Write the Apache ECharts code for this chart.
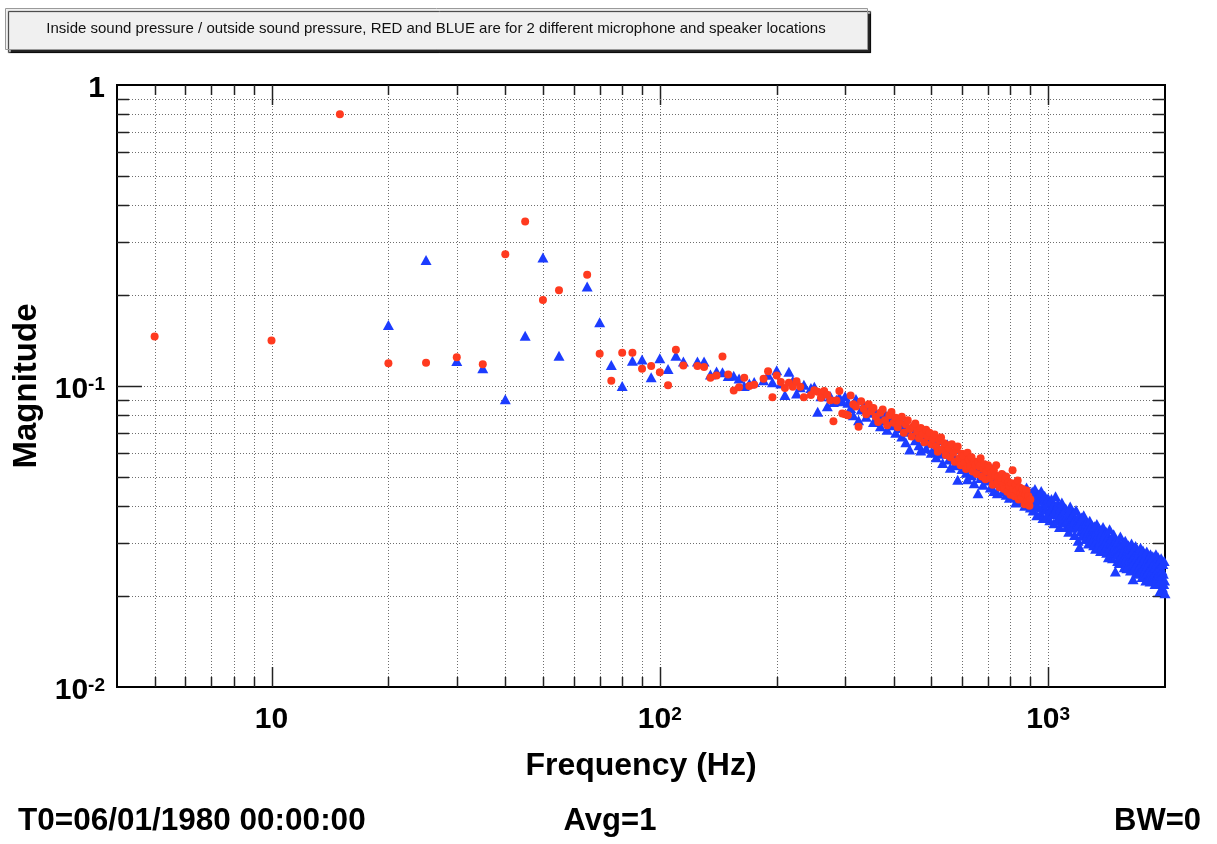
<!DOCTYPE html>
<html>
<head>
<meta charset="utf-8">
<script src="https://cdn.jsdelivr.net/npm/echarts@6.0.0/dist/echarts.min.js"></script>
<style>
html, body { margin: 0; padding: 0; background: #fff; }
#main { width: 1217px; height: 844px; }
</style>
</head>
<body>
<div id="main"></div>
<script>
// frequency bins are 5 Hz apart, null = bin not shown (mains harmonics)
var binStepHz = 5;
var redStartHz = 5;
var blueStartHz = 20;

// red: circles, 5 .. 900 Hz
var redMag = [
  0.146, 0.1415, 0.80, 0.119, 0.1195, 0.1245, 0.118, 0.274, 0.352, 0.193,
  0.208, null, 0.234, 0.128, 0.104, 0.129, 0.129, 0.114, 0.1165, 0.111,
  0.1005, 0.132, 0.117, null, 0.1165, 0.1156, 0.1066, 0.1083, 0.1254, 0.1092,
  0.0966, 0.099, 0.1066, 0.100, 0.101, null, 0.1058, 0.112, 0.0917, 0.1083,
  0.1031, 0.0985, 0.1025, 0.0994, 0.1037, 0.0994, 0.0917, null, 0.0933, 0.0968,
  0.0957, 0.0914, 0.0962, 0.0935, 0.0897, 0.0764, 0.0895, 0.0962, 0.0811, 0.0805,
  0.0800, 0.0930, 0.0870, 0.0855, 0.0732, 0.0890, 0.0840, 0.0805, 0.0870, 0.0825,
  0.0845, 0.0790, 0.0760, 0.0815, 0.0835, 0.0770, 0.0740, 0.0800, 0.0820, 0.0755,
  0.0785, 0.0730, 0.0760, 0.0790, 0.0700, 0.0745, 0.0770, 0.0720, 0.0680, 0.0735,
  0.0750, 0.0705, 0.0670, 0.0725, 0.0690, 0.0650, 0.0715, 0.0680, 0.0700, 0.0640,
  0.0665, 0.0690, 0.0630, 0.0605, 0.0660, 0.0675, 0.0615, 0.0645, 0.0590, 0.0635,
  0.0620, 0.0580, 0.0640, 0.0600, 0.0560, 0.0615, 0.0630, 0.0575, 0.0545, 0.0595,
  0.0585, 0.0555, 0.0530, 0.0600, 0.0570, 0.0540, 0.0580, 0.0520, 0.0560, 0.0545,
  0.0510, 0.0560, 0.0540, 0.0575, 0.0500, 0.0530, 0.0550, 0.0490, 0.0520, 0.0545,
  0.0535, 0.0495, 0.0515, 0.0470, 0.0525, 0.0505, 0.0545, 0.0480, 0.0500, 0.0460,
  0.0495, 0.0510, 0.0470, 0.0455, 0.0490, 0.0500, 0.0445, 0.0480, 0.0465, 0.0435,
  0.0475, 0.0525, 0.0455, 0.0430, 0.0470, 0.0450, 0.0485, 0.0420, 0.0460, 0.0440,
  0.0425, 0.0455, 0.0440, 0.0405, 0.0435, 0.0450, 0.0415, 0.0430, 0.0400, 0.0420
];

// blue: triangles, 20 .. 2000 Hz
var blueMag = [
  0.1595, 0.262, 0.121, 0.1145, 0.0903, 0.147, 0.267,
  0.126, null, 0.214, 0.163, 0.1175, 0.100, 0.1214, 0.1225, 0.107, 0.1236,
  0.1139, 0.126, 0.1205, null, 0.1205, 0.1205, 0.1092, 0.1117, 0.111, 0.108,
  0.1082, 0.106, 0.100, 0.102, 0.1031, null, 0.1045, 0.109, 0.103, 0.1128,
  0.102, 0.0933, 0.1115, 0.104, 0.0945, 0.099, 0.101, null, 0.0985, 0.0995,
  0.0821, 0.0925, 0.0945, 0.0857, 0.0925, 0.0885, 0.090, 0.092, 0.089, 0.0924,
  0.0880, 0.0845, 0.0800, 0.0905, 0.0770, 0.0835, 0.0860, 0.0790, 0.0815, 0.0845,
  0.0760, 0.0820, 0.0795, 0.0735, 0.0770, 0.0810, 0.0715, 0.0755, 0.0790, 0.0740,
  0.0700, 0.0760, 0.0725, 0.0680, 0.0745, 0.0650, 0.0705, 0.0615, 0.0730, 0.0690,
  0.0660, 0.0710, 0.0635, 0.0610, 0.0690, 0.0655, 0.0620, 0.0680, 0.0645, 0.0600,
  0.0650, 0.0615, 0.0580, 0.0630, 0.0660, 0.0595, 0.0555, 0.0620, 0.0600, 0.0640,
  0.0570, 0.0535, 0.0600, 0.0580, 0.0545, 0.0620, 0.0488, 0.0560, 0.0590, 0.0530,
  0.0550, 0.0575, 0.0515, 0.0490, 0.0545, 0.0565, 0.0505, 0.0535, 0.0475, 0.0550,
  0.0520, 0.0440, 0.0540, 0.0495, 0.0510, 0.0470, 0.0525, 0.0545, 0.0485, 0.0500,
  0.0515, 0.0460, 0.0490, 0.0530, 0.0448, 0.0475, 0.0505, 0.0440, 0.0480, 0.0500,
  0.0465, 0.0490, 0.0445, 0.0475, 0.0500, 0.0435, 0.0460, 0.0480, 0.0425, 0.0470,
  0.0455, 0.0430, 0.0470, 0.0445, 0.0410, 0.0460, 0.0475, 0.0420, 0.0440, 0.0455,
  0.0415, 0.0450, 0.0430, 0.0400, 0.0440, 0.0460, 0.0410, 0.0425, 0.0445, 0.0395,
  0.0418, 0.0445, 0.0386, 0.0406, 0.0455, 0.0428, 0.0372, 0.0398, 0.0436, 0.0419,
  0.0376, 0.0448, 0.0396, 0.0364, 0.0416, 0.0432, 0.0388, 0.0368, 0.0408, 0.0424,
  0.0380, 0.0358, 0.0396, 0.0421, 0.0375, 0.0402, 0.0350, 0.0386, 0.0430, 0.0392,
  0.0359, 0.0408, 0.0378, 0.0340, 0.0393, 0.0371, 0.0410, 0.0355, 0.0365, 0.0387,
  0.0352, 0.0392, 0.0340, 0.0372, 0.0361, 0.0328, 0.0384, 0.0398, 0.0350, 0.0369,
  0.0338, 0.0376, 0.0355, 0.0320, 0.0362, 0.0387, 0.0341, 0.0350, 0.0306, 0.0368,
  0.0292, 0.0355, 0.0330, 0.0366, 0.0318, 0.0345, 0.0372, 0.0326, 0.0338, 0.0310,
  0.0352, 0.0320, 0.0340, 0.0300, 0.0331, 0.0357, 0.0314, 0.0325, 0.0345, 0.0306,
  0.0325, 0.0296, 0.0342, 0.0318, 0.0288, 0.0330, 0.0348, 0.0310, 0.0322, 0.0295,
  0.0336, 0.0305, 0.0283, 0.0318, 0.0326, 0.0296, 0.0340, 0.0310, 0.0285, 0.0320,
  0.0302, 0.0328, 0.0279, 0.0296, 0.0314, 0.0270, 0.0306, 0.0334, 0.0290, 0.0300,
  0.0312, 0.0281, 0.0268, 0.0300, 0.0322, 0.0286, 0.0293, 0.0242, 0.0307, 0.0276,
  0.0290, 0.0262, 0.0305, 0.0280, 0.0258, 0.0296, 0.0316, 0.0272, 0.0285, 0.0260,
  0.0300, 0.0268, 0.0282, 0.0250, 0.0290, 0.0306, 0.0265, 0.0276, 0.0248, 0.0286,
  0.0274, 0.0296, 0.0256, 0.0266, 0.0288, 0.0244, 0.0279, 0.0300, 0.0260, 0.0270,
  0.0228, 0.0286, 0.0262, 0.0250, 0.0276, 0.0294, 0.0254, 0.0240, 0.0270, 0.0282,
  0.0262, 0.0238, 0.0281, 0.0252, 0.0266, 0.0290, 0.0246, 0.0258, 0.0232, 0.0274,
  0.0284, 0.0250, 0.0236, 0.0265, 0.0244, 0.0272, 0.0226, 0.0258, 0.0282, 0.0240,
  0.0254, 0.0230, 0.0270, 0.0246, 0.0262, 0.0224, 0.0276, 0.0250, 0.0236, 0.0266,
  0.0244, 0.0272, 0.0228, 0.0256, 0.0238, 0.0262, 0.0220, 0.0250, 0.0276, 0.0232,
  0.0258, 0.0230, 0.0246, 0.0270, 0.0222, 0.0240, 0.0262, 0.0208, 0.0252, 0.0234,
  0.0268, 0.0228, 0.0244, 0.0214, 0.0256, 0.0238, 0.0220, 0.0262, 0.0226, 0.0205
];

// grid / tick positions (log axes)
var xMajorTicks = [10, 100, 1000];
var xMinorTicks = [5, 6, 7, 8, 9, 20, 30, 40, 50, 60, 70, 80, 90,
                   200, 300, 400, 500, 600, 700, 800, 900];
var yMajorTicks = [0.1];
var yMinorTicks = [0.02, 0.03, 0.04, 0.05, 0.06, 0.07, 0.08, 0.09,
                   0.2, 0.3, 0.4, 0.5, 0.6, 0.7, 0.8, 0.9];

var titleText = 'Inside sound pressure / outside sound pressure, RED and BLUE are for 2 different microphone and speaker locations';
var font = '"Liberation Sans", Arial, Helvetica, sans-serif';

function toPoints(startHz, mags) {
  var pts = [];
  mags.forEach(function (m, i) {
    if (m !== null) pts.push([startHz + i * binStepHz, m]);
  });
  return pts;
}

function powLabel(v) {
  var lg = Math.log10(v);
  var e = Math.round(lg);
  if (Math.abs(lg - e) > 1e-6) return '';
  if (e === 0) return '1';
  if (e === 1) return '10';
  return '10{sup|' + e + '}';
}

var xTickData = xMajorTicks.map(function (v) { return [v, 0.1, 1]; })
  .concat(xMinorTicks.map(function (v) { return [v, 0.1, 0]; }));
var yTickData = yMajorTicks.map(function (v) { return [10, v, 1]; })
  .concat(yMinorTicks.map(function (v) { return [10, v, 0]; }));

var gridStyle = { stroke: '#6e6e6e', lineWidth: 1, lineDash: [1, 2] };
var tickStyle = { stroke: '#222', lineWidth: 1.5 };

function renderXTick(params, api) {
  var cs = params.coordSys;
  var px = Math.round(api.coord([api.value(0), 0.1])[0]) + 0.5;
  var len = api.value(2) ? 20 : 10;
  var top = cs.y, bottom = cs.y + cs.height;
  return {
    type: 'group',
    children: [
      { type: 'line', shape: { x1: px, y1: top, x2: px, y2: bottom }, style: gridStyle },
      { type: 'line', shape: { x1: px, y1: bottom, x2: px, y2: bottom - len }, style: tickStyle },
      { type: 'line', shape: { x1: px, y1: top, x2: px, y2: top + len }, style: tickStyle }
    ]
  };
}

function renderYTick(params, api) {
  var cs = params.coordSys;
  var py = Math.round(api.coord([10, api.value(1)])[1]) + 0.5;
  var len = api.value(2) ? 25 : 12;
  var left = cs.x, right = cs.x + cs.width;
  return {
    type: 'group',
    children: [
      { type: 'line', shape: { x1: left, y1: py, x2: right, y2: py }, style: gridStyle },
      { type: 'line', shape: { x1: left, y1: py, x2: left + len, y2: py }, style: tickStyle },
      { type: 'line', shape: { x1: right, y1: py, x2: right - len, y2: py }, style: tickStyle }
    ]
  };
}

var chart = echarts.init(document.getElementById('main'));

var labelRich = {
  sup: { fontSize: 19, fontWeight: 'bold', fontFamily: font, color: '#000', verticalAlign: 'top' }
};

var option = {
  animation: false,
  backgroundColor: '#fff',
  grid: {
    left: 117, top: 85, width: 1048, height: 602,
    show: true, borderColor: '#000', borderWidth: 2, backgroundColor: 'transparent'
  },
  xAxis: {
    type: 'log', logBase: 10, min: 4, max: 2000,
    name: 'Frequency (Hz)', nameLocation: 'middle', nameGap: 63,
    nameTextStyle: { fontSize: 32, fontWeight: 'bold', fontFamily: font, color: '#000' },
    axisLine: { show: false }, axisTick: { show: false }, splitLine: { show: false },
    axisLabel: {
      formatter: powLabel, margin: 18, fontSize: 30, fontWeight: 'bold',
      fontFamily: font, color: '#000', rich: labelRich,
      showMinLabel: false, showMaxLabel: false
    }
  },
  yAxis: {
    type: 'log', logBase: 10, min: 0.01, max: 1,
    name: 'Magnitude', nameLocation: 'middle', nameGap: 68, nameRotate: 90,
    nameTextStyle: { fontSize: 33, fontWeight: 'bold', fontFamily: font, color: '#000' },
    axisLine: { show: false }, axisTick: { show: false }, splitLine: { show: false },
    axisLabel: {
      formatter: powLabel, margin: 12, fontSize: 30, fontWeight: 'bold',
      fontFamily: font, color: '#000', rich: labelRich, padding: [8, 0, 0, 0]
    }
  },
  series: [
    { type: 'custom', silent: true, z: 1, renderItem: renderXTick, data: xTickData, encode: { x: 0, y: 1 } },
    { type: 'custom', silent: true, z: 1, renderItem: renderYTick, data: yTickData, encode: { x: 0, y: 1 } },
    {
      name: 'BLUE', type: 'scatter', z: 3, symbol: 'triangle', symbolSize: [11, 10],
      itemStyle: { color: '#1c3cff', opacity: 1 },
      data: toPoints(blueStartHz, blueMag)
    },
    {
      name: 'RED', type: 'scatter', z: 4, symbol: 'circle', symbolSize: 8,
      itemStyle: { color: '#ff3a1f', opacity: 1 },
      data: toPoints(redStartHz, redMag)
    }
  ],
  graphic: [
    {
      type: 'rect', left: 5, top: 8, z: 10,
      shape: { width: 862, height: 41 },
      style: { fill: '#f0f0f0', stroke: '#9a9a9a', lineWidth: 1,
               shadowColor: 'rgba(0,0,0,0.85)', shadowOffsetX: 3, shadowOffsetY: 3, shadowBlur: 1 }
    },
    {
      type: 'text', x: 436, y: 29, z: 11,
      style: { text: titleText, fontSize: 15, fontFamily: font, fill: '#111',
               align: 'center', verticalAlign: 'middle' }
    },
    {
      type: 'text', x: 18, y: 821,
      style: { text: 'T0=06/01/1980 00:00:00', fontSize: 31.5, fontWeight: 'bold', fontFamily: font,
               fill: '#000', align: 'left', verticalAlign: 'middle' }
    },
    {
      type: 'text', x: 610, y: 821,
      style: { text: 'Avg=1', fontSize: 31, fontWeight: 'bold', fontFamily: font,
               fill: '#000', align: 'center', verticalAlign: 'middle' }
    },
    {
      type: 'text', x: 1201, y: 821,
      style: { text: 'BW=0', fontSize: 31, fontWeight: 'bold', fontFamily: font,
               fill: '#000', align: 'right', verticalAlign: 'middle' }
    }
  ]
};

chart.setOption(option);
</script>
</body>
</html>
